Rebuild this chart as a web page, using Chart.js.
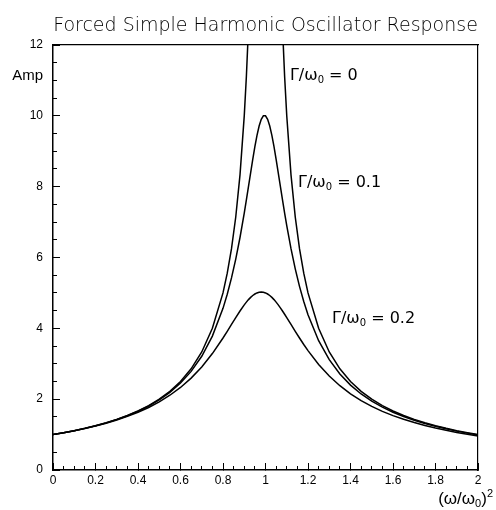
<!DOCTYPE html>
<html lang="en">
<head>
<meta charset="UTF-8">
<title>Forced Simple Harmonic Oscillator Response</title>
<script src="https://cdn.jsdelivr.net/npm/chart.js@4"></script>
<style>
  html, body { margin: 0; padding: 0; background: #fff; }
</style>
</head>
<body>
<canvas id="chart" width="496" height="510"></canvas>
<script>
// (omega/omega0)^2 sample points
const xValues = [
  0, 0.05, 0.1, 0.15, 0.2, 0.25, 0.3, 0.35, 0.4, 0.45, 0.5, 0.55, 0.6, 0.65, 0.7, 0.75, 0.8,
  0.82, 0.84, 0.86, 0.88,
  0.9, 0.91, 0.92, 0.93, 0.94, 0.95, 0.96, 0.97, 0.98, 0.99, 1.0,
  1.01, 1.02, 1.03, 1.04, 1.05, 1.06, 1.07, 1.08, 1.09, 1.1,
  1.12, 1.14, 1.16, 1.18, 1.2,
  1.25, 1.3, 1.35, 1.4, 1.45, 1.5, 1.55, 1.6, 1.65, 1.7, 1.75, 1.8, 1.85, 1.9, 1.95, 2.0
];

// amplitude, Gamma/omega0 = 0 (goes off the top near resonance)
const ampGamma0 = [
  1, 1.053, 1.111, 1.176, 1.25, 1.333, 1.429, 1.538, 1.667, 1.818, 2, 2.222, 2.5, 2.857, 3.333, 4, 5,
  5.556, 6.25, 7.143, 8.333,
  10, 11.11, 12.5, 14.29, null, null, null, null, null, null, null,
  null, null, null, null, null, null, 14.29, 12.5, 11.11, 10,
  8.333, 7.143, 6.25, 5.556, 5,
  4, 3.333, 2.857, 2.5, 2.222, 2, 1.818, 1.667, 1.538, 1.429, 1.333, 1.25, 1.176, 1.111, 1.053, 1
];

// amplitude, Gamma/omega0 = 0.1
const ampGamma01 = [
  1, 1.052, 1.110, 1.175, 1.248, 1.330, 1.424, 1.532, 1.658, 1.805, 1.980, 2.193, 2.454, 2.784, 3.211, 3.780, 4.564,
  4.963, 5.423, 5.955, 6.565,
  7.255, 7.625, 8.006, 8.392, 8.771, 9.129, 9.449, 9.713, 9.902, 10.0, 10.0,
  9.902, 9.713, 9.449, 9.129, 8.771, 8.392, 8.006, 7.625, 7.255, 6.901,
  6.25, 5.680, 5.185, 4.757, 4.385,
  3.651, 3.116, 2.712, 2.397, 2.147, 1.943, 1.773, 1.631, 1.509, 1.404, 1.313, 1.233, 1.162, 1.098, 1.041, 0.990
];

// amplitude, Gamma/omega0 = 0.2
const ampGamma02 = [
  1, 1.052, 1.108, 1.172, 1.242, 1.322, 1.411, 1.514, 1.631, 1.766, 1.925, 2.111, 2.331, 2.595, 2.911, 3.288, 3.727,
  3.916, 4.110, 4.303, 4.490,
  4.663, 4.740, 4.811, 4.874, 4.927, 4.969, 5.0, 5.019, 5.025, 5.019, 5.0,
  4.969, 4.927, 4.874, 4.811, 4.740, 4.663, 4.579, 4.490, 4.398, 4.303,
  4.110, 3.916, 3.727, 3.544, 3.371,
  2.981, 2.654, 2.380, 2.152, 1.959, 1.796, 1.656, 1.536, 1.431, 1.339, 1.257, 1.185, 1.121, 1.062, 1.010, 0.962
];

const gammaLabels = ['0', '0.1', '0.2'];

const tickFont = { family: '"Liberation Sans", Arial, sans-serif', size: 12 };

function pts(ys) {
  return xValues.map((x, i) => ({ x: x, y: ys[i] }));
}

function curve(ys) {
  return {
    data: pts(ys),
    xAxisID: 'x',
    yAxisID: 'y',
    borderColor: '#000',
    borderWidth: 1.5,
    pointRadius: 0,
    tension: 0,
    fill: false,
    spanGaps: false
  };
}

// where the Gamma labels sit (data coords, text baseline)
const labelSpots = [
  { x: 1.115, y: 11.0 },
  { x: 1.153, y: 7.99 },
  { x: 1.313, y: 4.15 }
];

const textPlugin = {
  id: 'textPlugin',
  afterDraw(chart) {
    const ctx = chart.ctx;
    const xs = chart.scales.x, ys = chart.scales.y;
    ctx.save();
    ctx.fillStyle = '#000';
    ctx.textBaseline = 'alphabetic';
    ctx.textAlign = 'left';

    const big = '16px "DejaVu Sans"';
    const small = '10px "DejaVu Sans"';
    labelSpots.forEach((s, i) => {
      let px = xs.getPixelForValue(s.x);
      let py = ys.getPixelForValue(s.y);
      ctx.font = big;
      ctx.fillText('\u0393/\u03c9', px, py);
      px += ctx.measureText('\u0393/\u03c9').width;
      ctx.font = small;
      ctx.fillText('0', px, py + 3);
      px += ctx.measureText('0').width;
      ctx.font = big;
      ctx.fillText(' = ' + gammaLabels[i], px, py);
    });

    // y title
    ctx.font = '15px "Liberation Sans"';
    ctx.textAlign = 'right';
    ctx.fillText('Amp', 43, 80);

    // x title: (w/w0)^2, right aligned
    ctx.textAlign = 'left';
    const f1 = '17px "Liberation Sans"', f2 = '11px "Liberation Sans"';
    const parts = [['(\u03c9/\u03c9', f1, 0], ['0', f2, 3], [')', f1, 0], ['2', f2, -7]];
    let tw = 0;
    parts.forEach(p => { ctx.font = p[1]; tw += ctx.measureText(p[0]).width; });
    let tx = 493 - tw;
    parts.forEach(p => {
      ctx.font = p[1];
      ctx.fillText(p[0], tx, 504 + p[2]);
      tx += ctx.measureText(p[0]).width;
    });
    ctx.restore();
  }
};

new Chart(document.getElementById('chart'), {
  type: 'line',
  data: {
    datasets: [curve(ampGamma0), curve(ampGamma01), curve(ampGamma02)]
  },
  options: {
    responsive: false,
    animation: false,
    layout: { padding: { left: 0, right: 18, top: 0, bottom: 0 } },
    plugins: {
      legend: { display: false },
      tooltip: { enabled: false },
      title: {
        display: true,
        text: 'Forced Simple Harmonic Oscillator Response',
        fullSize: false,
        color: '#000',
        font: { family: 'DejaVu Sans', size: 19, weight: '200' },
        padding: { top: 15, bottom: 7.2 }
      }
    },
    scales: {
      x: {
        type: 'linear', axis: 'x', position: 'bottom', min: 0, max: 2,
        ticks: {
          stepSize: 0.2, autoSkip: false, maxRotation: 0, padding: 10,
          color: '#000', font: tickFont,
          callback: v => String(+v.toFixed(2))
        },
        grid: { drawOnChartArea: false, tickLength: -7, color: '#000', lineWidth: 1 },
        border: { display: true, color: '#000', width: 1.5 },
        afterFit: s => { s.height = 40; }
      },
      xMinor: {
        type: 'linear', axis: 'x', position: 'bottom', weight: -1, min: 0, max: 2,
        ticks: { stepSize: 0.05, display: false },
        grid: { drawOnChartArea: false, tickLength: -4, color: '#000', lineWidth: 1 },
        border: { display: false },
        afterFit: s => { s.height = 0; }
      },
      xTop: {
        type: 'linear', axis: 'x', position: 'top', min: 0, max: 2,
        ticks: { display: false, stepSize: 1 },
        grid: { drawOnChartArea: false, drawTicks: false },
        border: { display: true, color: '#000', width: 1.2 },
        afterFit: s => { s.height = 0; }
      },
      y: {
        type: 'linear', axis: 'y', position: 'left', min: 0, max: 12,
        ticks: { stepSize: 2, padding: 17, color: '#000', font: tickFont },
        grid: { drawOnChartArea: false, tickLength: -7, color: '#000', lineWidth: 1 },
        border: { display: true, color: '#000', width: 1.5 },
        afterFit: s => { s.width = 53; }
      },
      yMinor: {
        type: 'linear', axis: 'y', position: 'left', weight: -1, min: 0, max: 12,
        ticks: { stepSize: 0.5, display: false },
        grid: { drawOnChartArea: false, tickLength: -4, color: '#000', lineWidth: 1 },
        border: { display: false },
        afterFit: s => { s.width = 0; }
      },
      yRight: {
        type: 'linear', axis: 'y', position: 'right', min: 0, max: 12,
        ticks: { display: false, stepSize: 6 },
        grid: { drawOnChartArea: false, drawTicks: false },
        border: { display: true, color: '#000', width: 1.2 },
        afterFit: s => { s.width = 0; }
      }
    }
  },
  plugins: [textPlugin]
});
</script>
</body>
</html>
